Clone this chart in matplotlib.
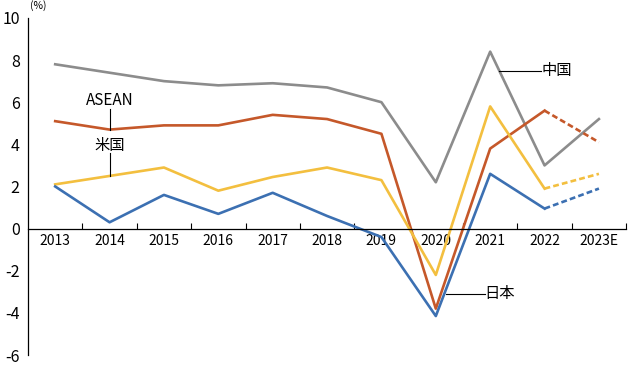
import matplotlib
matplotlib.use("Agg")
import matplotlib.pyplot as plt
from matplotlib.ticker import FixedLocator

plt.rcParams['font.family'] = ['Noto Sans CJK JP', 'DejaVu Sans']

years = ['2013', '2014', '2015', '2016', '2017', '2018', '2019', '2020', '2021', '2022', '2023E']
china = [7.8, 7.4, 7.0, 6.8, 6.9, 6.7, 6.0, 2.2, 8.4, 3.0, 5.2]
asean = [5.1, 4.7, 4.9, 4.9, 5.4, 5.2, 4.5, -3.8, 3.8, 5.6, 4.1]
usa = [2.1, 2.5, 2.9, 1.8, 2.45, 2.9, 2.3, -2.2, 5.8, 1.9, 2.6]
japan = [2.0, 0.3, 1.6, 0.7, 1.7, 0.6, -0.4, -4.15, 2.6, 0.95, 1.9]

# (values, colour, dashed forecast segment?)
series = [
    (china, '#8c8c8c', False),
    (asean, '#c5582a', True),
    (usa, '#f3bf3f', True),
    (japan, '#3c70b2', True),
]

fig = plt.figure(figsize=(6.28, 3.66), dpi=100)
ax = fig.add_axes([0.0446, 0.030, 0.9524, 0.921])

x = list(range(len(years)))
n_actual = 10  # up to 2022 solid
for vals, col, dashed in series:
    if dashed:
        ax.plot(x[:n_actual], vals[:n_actual], color=col, lw=1.9)
        ax.plot(x[n_actual - 1:], vals[n_actual - 1:], color=col, lw=1.9, ls=(0, (2.2, 1.2)))
    else:
        ax.plot(x, vals, color=col, lw=1.9)

ax.set_xlim(-0.5, len(years) - 0.5)
ax.set_ylim(-6, 10)
ax.set_yticks(range(-6, 11, 2))
ax.set_yticklabels([str(v) for v in range(-6, 11, 2)], fontsize=11.5)
ax.set_xticks(x)
ax.set_xticklabels(years, fontsize=11.5)
ax.xaxis.set_minor_locator(FixedLocator([i + 0.5 for i in range(len(years))]))
ax.tick_params(axis='x', which='major', length=0, pad=4)
ax.tick_params(axis='x', which='minor', length=4, direction='in', width=0.8)
ax.tick_params(axis='y', length=0, pad=6)

ax.spines['top'].set_visible(False)
ax.spines['right'].set_visible(False)
ax.spines['bottom'].set_position(('data', 0))
for s in ('left', 'bottom'):
    ax.spines[s].set_linewidth(0.9)
    ax.spines[s].set_color('black')

# annotations
ax.plot([1, 1], [4.7, 5.7], color='black', lw=0.8)
ax.text(1, 5.7, 'ASEAN', ha='center', va='bottom', fontsize=11)
ax.plot([1, 1], [2.5, 3.6], color='black', lw=0.8)
ax.text(1, 3.55, '米国', ha='center', va='bottom', fontsize=11)
ax.plot([8.17, 8.93], [7.5, 7.5], color='black', lw=0.8)
ax.text(8.95, 7.5, '中国', ha='left', va='center', fontsize=11)
ax.plot([7.18, 7.9], [-3.1, -3.1], color='black', lw=0.8)
ax.text(7.9, -3.1, '日本', ha='left', va='center', fontsize=11)

fig.text(38 / 628, 1 - 6 / 366, '(%)', fontsize=7.5, ha='center', va='center')

fig.savefig('out.png', dpi=100)
